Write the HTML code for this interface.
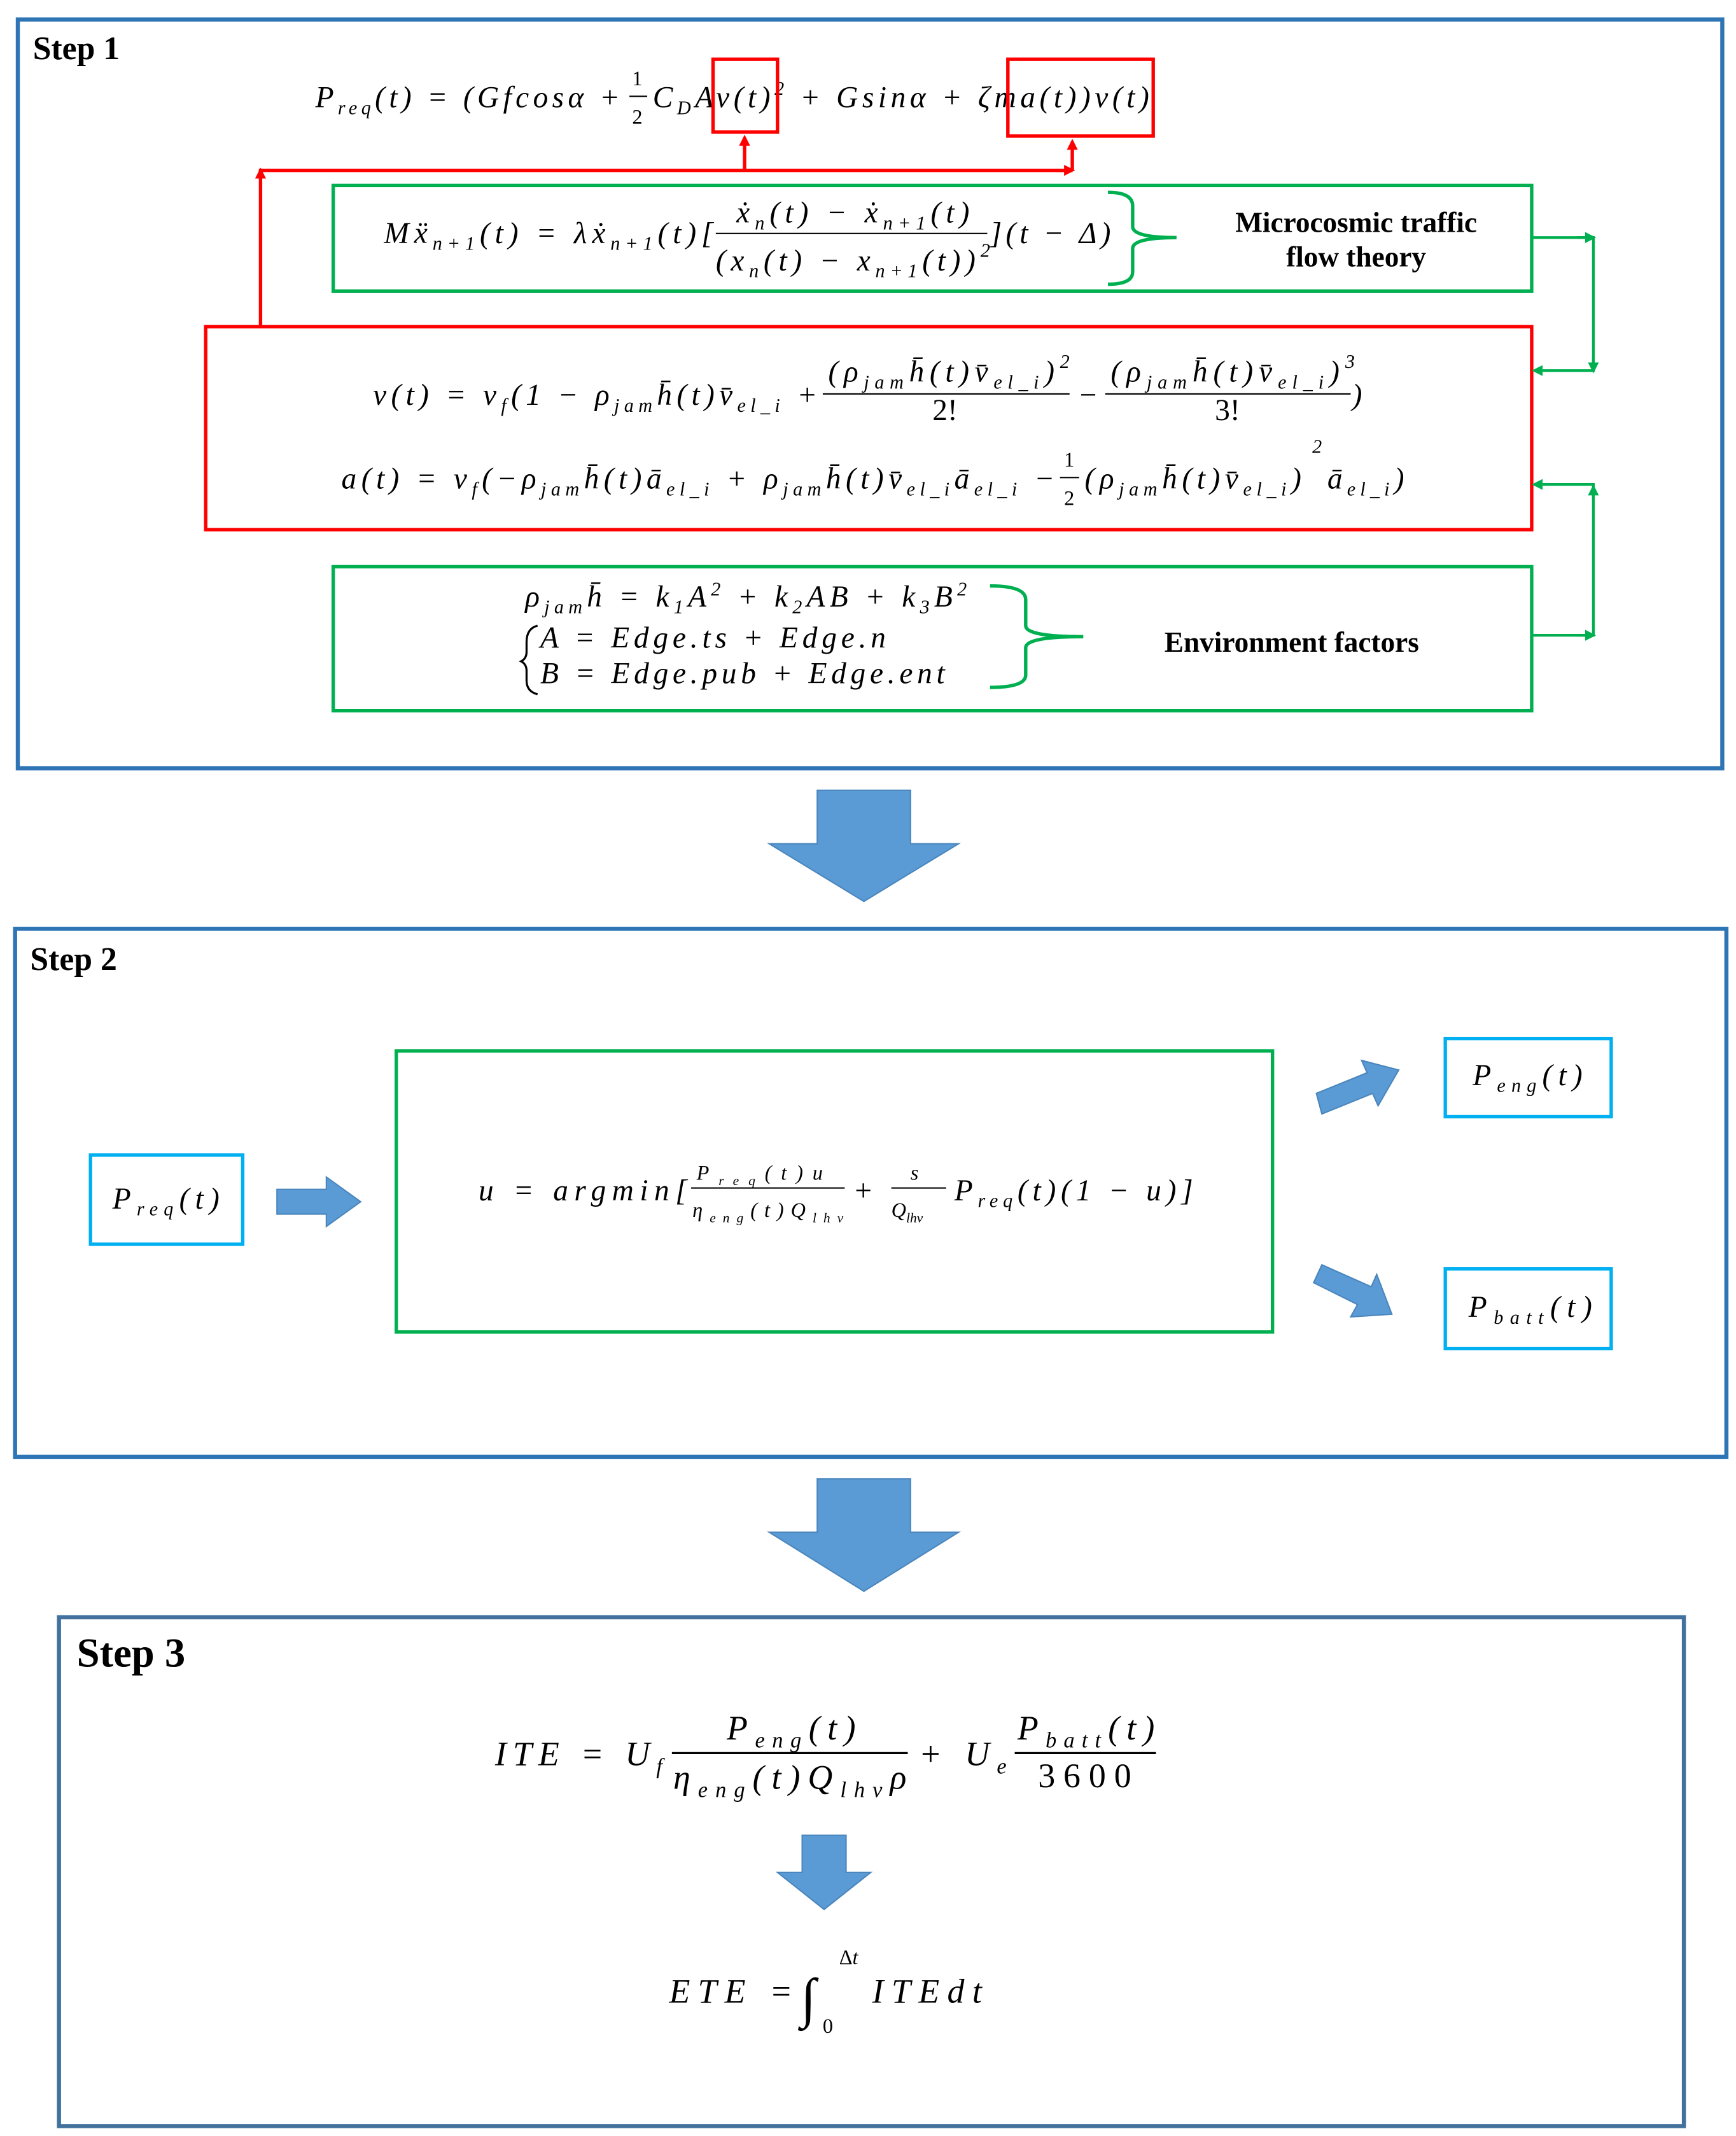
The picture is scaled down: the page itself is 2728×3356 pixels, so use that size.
<!DOCTYPE html>
<html><head><meta charset="utf-8"><style>
html,body{margin:0;padding:0;background:#fff}
svg{display:block}
.m{font-family:"Liberation Serif",serif;font-style:italic;font-size:22px;fill:#000}
.s{font-size:14px}
.b{font-family:"Liberation Serif",serif;font-weight:bold;font-size:21px;fill:#000}
.st{font-family:"Liberation Serif",serif;font-weight:bold;font-size:24px;fill:#000}
</style></head><body>
<svg width="2728" height="3356" viewBox="0 0 1266 1557" xmlns="http://www.w3.org/2000/svg">
<defs>
<marker id="ar" markerWidth="8" markerHeight="8" refX="6" refY="4" orient="auto" markerUnits="userSpaceOnUse"><path d="M0,0 L8,4 L0,8 Z" fill="#f00"/></marker>
<marker id="ag" markerWidth="8" markerHeight="8" refX="6" refY="4" orient="auto" markerUnits="userSpaceOnUse"><path d="M0,0 L8,4 L0,8 Z" fill="#00b050"/></marker>
</defs>
<!-- Step 1 -->
<rect x="13" y="14" width="1243" height="546" fill="none" stroke="#2e75b6" stroke-width="3"/>
<text x="24" y="43" class="st">Step 1</text>
<text x="230" y="78" class="m" textLength="222" lengthAdjust="spacing">P<tspan class="s" dy="5">req</tspan><tspan dy="-5">(t) = (Gfcosα + </tspan></text>
<text x="461" y="62" class="m" style="font-style:normal;font-size:15px">1</text>
<line x1="459" y1="70" x2="472" y2="70" stroke="#000"/>
<text x="461" y="90" class="m" style="font-style:normal;font-size:15px">2</text>
<text x="476" y="78" class="m" textLength="362" lengthAdjust="spacing">C<tspan class="s" dy="5">D</tspan><tspan dy="-5">Av(t)</tspan><tspan class="s" dy="-9">2</tspan><tspan dy="9"> + Gsinα + ζma(t))v(t)</tspan></text>
<rect x="520" y="43" width="47" height="53" fill="none" stroke="#f00" stroke-width="2.5"/>
<rect x="735" y="43" width="106" height="56" fill="none" stroke="#f00" stroke-width="2.5"/>
<polyline points="190,238 190,124 782,124" fill="none" stroke="#f00" stroke-width="2.5"/>
<line x1="190" y1="130" x2="190" y2="124" stroke="#f00" stroke-width="2.5" marker-end="url(#ar)"/>
<line x1="543" y1="124" x2="543" y2="100" stroke="#f00" stroke-width="2.5" marker-end="url(#ar)"/>
<line x1="782" y1="124" x2="782" y2="103" stroke="#f00" stroke-width="2.5" marker-end="url(#ar)"/>
<line x1="770" y1="124" x2="782" y2="124" stroke="#f00" stroke-width="2.5" marker-end="url(#ar)"/>
<rect x="243" y="135" width="874" height="77" fill="none" stroke="#00b050" stroke-width="2.5"/>
<text x="280" y="177" class="m" textLength="240" lengthAdjust="spacing">Mẍ<tspan class="s" dy="5">n+1</tspan><tspan dy="-5">(t) = λẋ</tspan><tspan class="s" dy="5">n+1</tspan><tspan dy="-5">(t)[</tspan></text>
<text x="537" y="162" class="m" textLength="170" lengthAdjust="spacing">ẋ<tspan class="s" dy="5">n</tspan><tspan dy="-5">(t) − ẋ</tspan><tspan class="s" dy="5">n+1</tspan><tspan dy="-5">(t)</tspan></text>
<line x1="522" y1="170" x2="720" y2="170" stroke="#000"/>
<text x="522" y="197" class="m" textLength="200" lengthAdjust="spacing">(x<tspan class="s" dy="5">n</tspan><tspan dy="-5">(t) − x</tspan><tspan class="s" dy="5">n+1</tspan><tspan dy="-5">(t))</tspan><tspan class="s" dy="-10">2</tspan></text>
<text x="722" y="177" class="m" textLength="88" lengthAdjust="spacing">](t − Δ)</text>
<path d="M808,140 Q826,140 826,150 L826,165 Q826,173 858,173 Q826,173 826,181 L826,198 Q826,207 808,207" fill="none" stroke="#00b050" stroke-width="2.5"/>
<text x="989" y="169" class="b" text-anchor="middle">Microcosmic traffic</text>
<text x="989" y="194" class="b" text-anchor="middle">flow theory</text>
<rect x="150" y="238" width="967" height="148" fill="none" stroke="#f00" stroke-width="2.5"/>
<text x="272" y="295" class="m" textLength="324" lengthAdjust="spacing">v(t) = v<tspan class="s" dy="5">f</tspan><tspan dy="-5">(1 − ρ</tspan><tspan class="s" dy="5">jam</tspan><tspan dy="-5">h̄(t)v̄</tspan><tspan class="s" dy="5">el_i</tspan><tspan dy="-5"> + </tspan></text>
<text x="604" y="278" class="m" textLength="176" lengthAdjust="spacing">(ρ<tspan class="s" dy="5">jam</tspan><tspan dy="-5">h̄(t)v̄</tspan><tspan class="s" dy="5">el_i</tspan><tspan dy="-5">)</tspan><tspan class="s" dy="-10">2</tspan></text>
<line x1="600" y1="287" x2="780" y2="287" stroke="#000"/>
<text x="680" y="306" class="m" style="font-style:normal">2!</text>
<text x="786" y="295" class="m">−</text>
<text x="810" y="278" class="m" textLength="178" lengthAdjust="spacing">(ρ<tspan class="s" dy="5">jam</tspan><tspan dy="-5">h̄(t)v̄</tspan><tspan class="s" dy="5">el_i</tspan><tspan dy="-5">)</tspan><tspan class="s" dy="-10">3</tspan></text>
<line x1="806" y1="287" x2="985" y2="287" stroke="#000"/>
<text x="886" y="306" class="m" style="font-style:normal">3!</text>
<text x="986" y="295" class="m">)</text>
<text x="249" y="356" class="m" textLength="520" lengthAdjust="spacing">a(t) = v<tspan class="s" dy="5">f</tspan><tspan dy="-5">(−ρ</tspan><tspan class="s" dy="5">jam</tspan><tspan dy="-5">h̄(t)ā</tspan><tspan class="s" dy="5">el_i</tspan><tspan dy="-5"> + ρ</tspan><tspan class="s" dy="5">jam</tspan><tspan dy="-5">h̄(t)v̄</tspan><tspan class="s" dy="5">el_i</tspan><tspan dy="-5">ā</tspan><tspan class="s" dy="5">el_i</tspan><tspan dy="-5"> − </tspan></text>
<text x="776" y="340" class="m" style="font-style:normal;font-size:15px">1</text>
<line x1="773" y1="348" x2="787" y2="348" stroke="#000"/>
<text x="776" y="368" class="m" style="font-style:normal;font-size:15px">2</text>
<text x="791" y="356" class="m" textLength="158" lengthAdjust="spacing">(ρ<tspan class="s" dy="5">jam</tspan><tspan dy="-5">h̄(t)v̄</tspan><tspan class="s" dy="5">el_i</tspan><tspan dy="-5">)</tspan></text>
<text x="957" y="330" class="s m">2</text>
<text x="968" y="356" class="m" textLength="56" lengthAdjust="spacing">ā<tspan class="s" dy="5">el_i</tspan><tspan dy="-5">)</tspan></text>
<rect x="243" y="413" width="874" height="105" fill="none" stroke="#00b050" stroke-width="2.5"/>
<text x="383" y="442" class="m" textLength="322" lengthAdjust="spacing">ρ<tspan class="s" dy="5">jam</tspan><tspan dy="-5">h̄ = k</tspan><tspan class="s" dy="5">1</tspan><tspan dy="-5">A</tspan><tspan class="s" dy="-8">2</tspan><tspan dy="8"> + k</tspan><tspan class="s" dy="5">2</tspan><tspan dy="-5">AB + k</tspan><tspan class="s" dy="5">3</tspan><tspan dy="-5">B</tspan><tspan class="s" dy="-8">2</tspan></text>
<path d="M392,456 Q384,458 384,468 L384,475 Q384,480 380,482 Q384,484 384,489 L384,496 Q384,504 392,506" fill="none" stroke="#000" stroke-width="1.5"/>
<text x="394" y="472" class="m" textLength="252" lengthAdjust="spacing">A = Edge.ts + Edge.n</text>
<text x="394" y="498" class="m" textLength="295" lengthAdjust="spacing">B = Edge.pub + Edge.ent</text>
<path d="M722,427 Q748,427 748,437 L748,456 Q748,464 790,464 Q748,464 748,472 L748,492 Q748,501 722,501" fill="none" stroke="#00b050" stroke-width="2.5"/>
<text x="942" y="475" class="b" text-anchor="middle">Environment factors</text>
<polyline points="1117,173 1162,173 1162,270 1125,270" fill="none" stroke="#00b050" stroke-width="2"/>
<line x1="1125" y1="270" x2="1119" y2="270" stroke="#00b050" stroke-width="2" marker-end="url(#ag)"/>
<line x1="1150" y1="173" x2="1162" y2="173" stroke="#00b050" stroke-width="2" marker-end="url(#ag)"/>
<line x1="1162" y1="260" x2="1162" y2="270" stroke="#00b050" stroke-width="2" marker-end="url(#ag)"/>
<polyline points="1117,463 1162,463 1162,353 1125,353" fill="none" stroke="#00b050" stroke-width="2"/>
<line x1="1125" y1="353" x2="1119" y2="353" stroke="#00b050" stroke-width="2" marker-end="url(#ag)"/>
<line x1="1150" y1="463" x2="1162" y2="463" stroke="#00b050" stroke-width="2" marker-end="url(#ag)"/>
<line x1="1162" y1="365" x2="1162" y2="355" stroke="#00b050" stroke-width="2" marker-end="url(#ag)"/>
<!-- Arrow 1 -->
<path d="M596,576 H664 V615 H699 L630,657 L561,615 H596 Z" fill="#5b9bd5" stroke="#4a86bd"/>
<!-- Step 2 -->
<rect x="11" y="677" width="1248" height="385" fill="none" stroke="#2e75b6" stroke-width="3"/>
<text x="22" y="707" class="st">Step 2</text>
<rect x="66" y="842" width="111" height="65" fill="none" stroke="#00b0f0" stroke-width="2.5"/>
<text x="82" y="881" class="m" textLength="78" lengthAdjust="spacing">P<tspan class="s" dy="5">req</tspan><tspan dy="-5">(t)</tspan></text>
<path d="M202,867 H238 V858 L263,876 L238,894 V885 H202 Z" fill="#5b9bd5" stroke="#4a86bd"/>
<rect x="289" y="766" width="639" height="205" fill="none" stroke="#00b050" stroke-width="2.5"/>
<text x="349" y="875" class="m" textLength="152" lengthAdjust="spacing">u = argmin[</text>
<text x="508" y="860" class="m" style="font-size:15px" textLength="92" lengthAdjust="spacing">P<tspan style="font-size:10px" dy="4">req</tspan><tspan dy="-4">(t)u</tspan></text>
<line x1="504" y1="866" x2="616" y2="866" stroke="#000"/>
<text x="505" y="887" class="m" style="font-size:15px" textLength="110" lengthAdjust="spacing">η<tspan style="font-size:10px" dy="4">eng</tspan><tspan dy="-4">(t)Q</tspan><tspan style="font-size:10px" dy="4">lhv</tspan></text>
<text x="622" y="875" class="m">+</text>
<text x="664" y="860" class="m" style="font-size:15px">s</text>
<line x1="650" y1="866" x2="690" y2="866" stroke="#000"/>
<text x="650" y="887" class="m" style="font-size:15px">Q<tspan style="font-size:10px" dy="4">lhv</tspan></text>
<text x="696" y="875" class="m" textLength="174" lengthAdjust="spacing">P<tspan class="s" dy="5">req</tspan><tspan dy="-5">(t)(1 − u)]</tspan></text>
<path d="M960,797 L997,782 L993,773 L1020,780 L1005,806 L1001,797 L964,812 Z" fill="#5b9bd5" stroke="#4a86bd"/>
<path d="M964,922 L1000,938 L1004,929 L1015,958 L985,960 L990,951 L958,935 Z" fill="#5b9bd5" stroke="#4a86bd"/>
<rect x="1054" y="757" width="121" height="57" fill="none" stroke="#00b0f0" stroke-width="2.5"/>
<text x="1074" y="791" class="m" textLength="80" lengthAdjust="spacing">P<tspan class="s" dy="5">eng</tspan><tspan dy="-5">(t)</tspan></text>
<rect x="1054" y="925" width="121" height="58" fill="none" stroke="#00b0f0" stroke-width="2.5"/>
<text x="1071" y="960" class="m" textLength="90" lengthAdjust="spacing">P<tspan class="s" dy="5">batt</tspan><tspan dy="-5">(t)</tspan></text>
<!-- Arrow 2 -->
<path d="M596,1078 H664 V1117 H699 L630,1160 L561,1117 H596 Z" fill="#5b9bd5" stroke="#4a86bd"/>
<!-- Step 3 -->
<rect x="43" y="1179" width="1185" height="371" fill="none" stroke="#41719c" stroke-width="3"/>
<text x="56" y="1215" class="st" style="font-size:30px">Step 3</text>
<text x="361" y="1287" class="m" style="font-size:25px" textLength="122" lengthAdjust="spacing">ITE = U<tspan style="font-size:16px" dy="6">f</tspan></text>
<text x="530" y="1268" class="m" style="font-size:25px" textLength="94" lengthAdjust="spacing">P<tspan style="font-size:16px" dy="6">eng</tspan><tspan dy="-6">(t)</tspan></text>
<line x1="490" y1="1278" x2="662" y2="1278" stroke="#000" stroke-width="1.5"/>
<text x="491" y="1304" class="m" style="font-size:25px" textLength="170" lengthAdjust="spacing">η<tspan style="font-size:16px" dy="6">eng</tspan><tspan dy="-6">(t)Q</tspan><tspan style="font-size:16px" dy="6">lhv</tspan><tspan dy="-6">ρ</tspan></text>
<text x="670" y="1287" class="m" style="font-size:25px" textLength="64" lengthAdjust="spacing">+ U<tspan style="font-size:16px" dy="6">e</tspan></text>
<text x="742" y="1268" class="m" style="font-size:25px" textLength="100" lengthAdjust="spacing">P<tspan style="font-size:16px" dy="6">batt</tspan><tspan dy="-6">(t)</tspan></text>
<line x1="740" y1="1278" x2="843" y2="1278" stroke="#000" stroke-width="1.5"/>
<text x="757" y="1303" class="m" style="font-size:25px;font-style:normal" textLength="68" lengthAdjust="spacing">3600</text>
<path d="M585,1338 H617 V1365 H635 L601,1392 L567,1365 H585 Z" fill="#5b9bd5" stroke="#4a86bd"/>
<text x="488" y="1460" class="m" style="font-size:25px" textLength="90" lengthAdjust="spacing">ETE =</text>
<text x="584" y="1470" class="m" style="font-size:40px">∫</text>
<text x="612" y="1432" class="m" style="font-size:15px;font-style:normal">Δ<tspan font-style="italic">t</tspan></text>
<text x="600" y="1482" class="m" style="font-size:15px;font-style:normal">0</text>
<text x="636" y="1460" class="m" style="font-size:25px" textLength="80" lengthAdjust="spacing">ITEdt</text>
</svg>
</body></html>
